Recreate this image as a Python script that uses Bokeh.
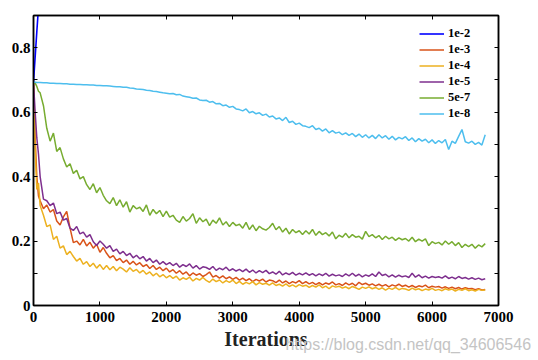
from bokeh.plotting import figure
from bokeh.models import FixedTicker, LinearAxis, Range1d, Legend, LegendItem, Title
from bokeh.embed import file_html
from bokeh.resources import INLINE

# ---------------- data ----------------
iterations = [0, 25, 50, 75] + list(range(100, 6850, 50))

blue_iter = [0, 50, 100]
lr_1e2 = [0.693, 0.85, 1.0]

lr_1e3 = [0.693, 0.52, 0.40, 0.34,
          0.325, 0.30, 0.312, 0.29, 0.298, 0.262, 0.25, 0.275, 0.292, 0.24,
          0.195, 0.20, 0.188, 0.205, 0.185, 0.196, 0.178, 0.19, 0.165, 0.18,
          0.162, 0.148, 0.155, 0.139, 0.146, 0.133, 0.141, 0.128, 0.137, 0.126,
          0.133, 0.121, 0.127, 0.115, 0.124, 0.112, 0.119, 0.108, 0.116, 0.104,
          0.111, 0.10, 0.108, 0.097, 0.104, 0.092, 0.101, 0.094, 0.099, 0.09,
          0.096, 0.104, 0.088, 0.093, 0.085, 0.092, 0.083, 0.089, 0.081, 0.087,
          0.079, 0.085, 0.077, 0.083, 0.074, 0.081, 0.076, 0.082, 0.073, 0.079,
          0.077, 0.071, 0.079, 0.07, 0.076, 0.068, 0.074, 0.07, 0.077, 0.068,
          0.074, 0.067, 0.072, 0.065, 0.071, 0.064, 0.07, 0.066, 0.073, 0.064,
          0.068, 0.062, 0.07, 0.064, 0.069, 0.061, 0.072, 0.065, 0.069, 0.063,
          0.067, 0.061, 0.066, 0.06, 0.065, 0.058, 0.064, 0.06, 0.066, 0.059,
          0.063, 0.057, 0.062, 0.056, 0.061, 0.058, 0.063, 0.055, 0.06, 0.057,
          0.059, 0.054, 0.058, 0.053, 0.057, 0.052, 0.056, 0.051, 0.055, 0.052,
          0.053, 0.049, 0.052, 0.048, 0.05]

lr_1e4 = [0.693, 0.48, 0.36, 0.38,
          0.31, 0.28, 0.245, 0.25, 0.205, 0.215, 0.178, 0.185, 0.158, 0.168,
          0.152, 0.138, 0.146, 0.128, 0.136, 0.121, 0.131, 0.116, 0.127, 0.112,
          0.124, 0.111, 0.121, 0.108, 0.119, 0.113, 0.104, 0.117, 0.106, 0.112,
          0.101, 0.109, 0.097, 0.104, 0.092, 0.10, 0.089, 0.096, 0.086, 0.093,
          0.084, 0.091, 0.079, 0.086, 0.081, 0.088, 0.076, 0.084, 0.079, 0.087,
          0.078, 0.072, 0.082, 0.074, 0.079, 0.07, 0.077, 0.072, 0.079, 0.068,
          0.075, 0.066, 0.072, 0.067, 0.074, 0.064, 0.071, 0.066, 0.069, 0.063,
          0.07, 0.062, 0.066, 0.06, 0.067, 0.059, 0.064, 0.058, 0.065, 0.06,
          0.063, 0.056, 0.062, 0.057, 0.064, 0.055, 0.06, 0.052, 0.061, 0.057,
          0.06, 0.054, 0.058, 0.052, 0.059, 0.055, 0.05, 0.057, 0.053, 0.058,
          0.052, 0.056, 0.05, 0.055, 0.048, 0.054, 0.05, 0.056, 0.049, 0.053,
          0.051, 0.047, 0.054, 0.049, 0.052, 0.046, 0.051, 0.048, 0.053, 0.047,
          0.05, 0.046, 0.052, 0.048, 0.051, 0.045, 0.05, 0.047, 0.052, 0.046,
          0.049, 0.045, 0.05, 0.047, 0.048]

lr_1e5 = [0.693, 0.60, 0.52, 0.47,
          0.40, 0.33, 0.325, 0.31, 0.318, 0.285, 0.29, 0.265, 0.27, 0.24,
          0.233, 0.245, 0.222, 0.228, 0.212, 0.22, 0.198, 0.186, 0.20, 0.19,
          0.178, 0.186, 0.168, 0.175, 0.16, 0.168, 0.155, 0.162, 0.148, 0.156,
          0.145, 0.152, 0.138, 0.146, 0.133, 0.141, 0.128, 0.136, 0.127, 0.133,
          0.124, 0.131, 0.119, 0.127, 0.121, 0.129, 0.116, 0.124, 0.113, 0.12,
          0.118, 0.112, 0.121, 0.109, 0.116, 0.111, 0.119, 0.108, 0.114, 0.107,
          0.112, 0.105, 0.113, 0.103, 0.11, 0.101, 0.108, 0.102, 0.109, 0.099,
          0.104, 0.097, 0.106, 0.095, 0.101, 0.096, 0.103, 0.094, 0.10, 0.095,
          0.101, 0.094, 0.099, 0.092, 0.098, 0.093, 0.10, 0.091, 0.097, 0.092,
          0.095, 0.09, 0.098, 0.092, 0.10, 0.091, 0.097, 0.089, 0.095, 0.091,
          0.098, 0.09, 0.104, 0.093, 0.097, 0.089, 0.095, 0.088, 0.094, 0.089,
          0.092, 0.087, 0.10, 0.088, 0.095, 0.086, 0.091, 0.085, 0.09, 0.087,
          0.089, 0.085, 0.092, 0.084, 0.088, 0.083, 0.09, 0.084, 0.087, 0.082,
          0.086, 0.081, 0.085, 0.08, 0.083]

lr_5e7 = [0.693, 0.69, 0.68, 0.665,
          0.66, 0.62, 0.55, 0.51, 0.535, 0.478, 0.49, 0.455, 0.43, 0.44,
          0.41, 0.42, 0.393, 0.40, 0.375, 0.36, 0.378, 0.35, 0.366, 0.342,
          0.325, 0.316, 0.335, 0.31, 0.328, 0.305, 0.322, 0.29, 0.31, 0.30,
          0.305, 0.292, 0.312, 0.28, 0.298, 0.285, 0.295, 0.276, 0.293, 0.274,
          0.28, 0.265, 0.258, 0.276, 0.262, 0.27, 0.285, 0.255, 0.272, 0.26,
          0.268, 0.248, 0.265, 0.255, 0.272, 0.25, 0.26, 0.245, 0.258, 0.248,
          0.252, 0.24, 0.258, 0.236, 0.25, 0.232, 0.246, 0.238, 0.234, 0.242,
          0.255, 0.235, 0.245, 0.228, 0.24, 0.222, 0.236, 0.226, 0.232, 0.22,
          0.232, 0.222, 0.236, 0.218, 0.23, 0.22, 0.226, 0.216, 0.228, 0.207,
          0.218, 0.212, 0.224, 0.21, 0.22, 0.212, 0.215, 0.206, 0.23, 0.214,
          0.22, 0.21, 0.217, 0.205, 0.215, 0.207, 0.212, 0.202, 0.21, 0.204,
          0.208, 0.20, 0.212, 0.198, 0.206, 0.20, 0.207, 0.186, 0.198, 0.192,
          0.196, 0.188, 0.20, 0.19, 0.198, 0.186, 0.195, 0.18, 0.19, 0.183,
          0.19, 0.178, 0.188, 0.182, 0.192]

lr_1e8 = [0.693, 0.693, 0.692, 0.692,
          0.692, 0.691, 0.691, 0.690, 0.690, 0.689, 0.689, 0.688, 0.688, 0.687,
          0.687, 0.686, 0.686, 0.685, 0.685, 0.684, 0.684, 0.683, 0.683, 0.682,
          0.682, 0.681, 0.68, 0.679, 0.679, 0.677, 0.677, 0.675, 0.674, 0.672,
          0.671, 0.67, 0.668, 0.667, 0.665, 0.664, 0.662, 0.66, 0.659, 0.657,
          0.658, 0.654, 0.655, 0.65, 0.648, 0.646, 0.643, 0.644, 0.638, 0.636,
          0.637, 0.631, 0.633, 0.626, 0.627, 0.62, 0.622, 0.615, 0.618, 0.61,
          0.608, 0.604, 0.61, 0.598, 0.602, 0.595, 0.598, 0.59, 0.594, 0.585,
          0.588, 0.579, 0.582, 0.574, 0.584, 0.568, 0.572, 0.562, 0.566, 0.558,
          0.556, 0.552, 0.558, 0.546, 0.55, 0.541, 0.548, 0.536, 0.543, 0.535,
          0.538, 0.53, 0.536, 0.528, 0.534, 0.524, 0.532, 0.522, 0.53, 0.52,
          0.528, 0.518, 0.53, 0.52, 0.527, 0.516, 0.525, 0.514, 0.522, 0.517,
          0.524, 0.512, 0.52, 0.508, 0.518, 0.51, 0.516, 0.505, 0.514, 0.503,
          0.512, 0.505, 0.515, 0.484, 0.51, 0.503, 0.525, 0.546, 0.508, 0.504,
          0.51, 0.50, 0.506, 0.498, 0.53]

series_names = ["1e-2", "1e-3", "1e-4", "1e-5", "5e-7", "1e-8"]
series_colors = ["#0000FF", "#D95319", "#EDB120", "#7E2F8E", "#77AC30", "#4DBEEE"]

x_ticks = [0, 1000, 2000, 3000, 4000, 5000, 6000, 7000]
y_label_ticks = [0, 0.2, 0.4, 0.6, 0.8]
y_minor_ticks = [0.1, 0.3, 0.5, 0.7, 0.9]
y_all_ticks = [0, 0.1, 0.2, 0.3, 0.4, 0.5, 0.6, 0.7, 0.8, 0.9]
y_labels = {0: "0", 0.2: "0.2", 0.4: "0.4", 0.6: "0.6", 0.8: "0.8"}
watermark = "https://blog.csdn.net/qq_34606546"

# ---------------- figure ----------------
FONT = "Liberation Serif"
p = figure(frame_width=465, frame_height=290, output_backend="svg",
           toolbar_location=None, x_range=Range1d(0, 7000), y_range=Range1d(0, 0.9),
           min_border_left=33, min_border_top=15, min_border_right=38, min_border_bottom=55)
p.xgrid.visible = False
p.ygrid.visible = False
p.outline_line_color = "black"
p.outline_line_width = 1.5
p.background_fill_color = "white"
p.border_fill_color = "white"

renderers = [p.line(blue_iter, lr_1e2, line_color=series_colors[0], line_width=1.6)]
for name, ys, c in zip(series_names[1:], [lr_1e3, lr_1e4, lr_1e5, lr_5e7, lr_1e8], series_colors[1:]):
    renderers.append(p.line(iterations, ys, line_color=c, line_width=1.5))


def style_axis(ax):
    ax.axis_line_color = "black"
    ax.axis_line_width = 1.5
    ax.major_tick_in = 4
    ax.major_tick_out = 0
    ax.minor_tick_in = 4
    ax.minor_tick_out = 0
    ax.major_tick_line_color = "black"
    ax.minor_tick_line_color = "black"
    ax.major_tick_line_width = 1
    ax.minor_tick_line_width = 1
    ax.major_label_text_font = FONT
    ax.major_label_text_font_style = "bold"
    ax.major_label_text_color = "black"
    ax.major_label_text_font_size = "15px"


xa = p.xaxis[0]
xa.ticker = FixedTicker(ticks=x_ticks)
style_axis(xa)
xa.major_label_standoff = 6
xa.axis_label = "Iterations"
xa.axis_label_text_font = FONT
xa.axis_label_text_font_style = "bold"
xa.axis_label_text_font_size = "20px"
xa.axis_label_text_color = "#222222"
xa.axis_label_standoff = 3

ya = p.yaxis[0]
ya.ticker = FixedTicker(ticks=y_label_ticks, minor_ticks=y_minor_ticks)
ya.major_label_overrides = y_labels
style_axis(ya)
ya.major_label_standoff = 3

top = LinearAxis(ticker=FixedTicker(ticks=[], minor_ticks=x_ticks))
style_axis(top)
p.add_layout(top, "above")
right = LinearAxis(ticker=FixedTicker(ticks=[], minor_ticks=y_all_ticks))
style_axis(right)
p.add_layout(right, "right")

legend = Legend(items=[LegendItem(label=n, renderers=[rr]) for n, rr in zip(series_names, renderers)],
                location=(386, 184))
legend.border_line_color = None
legend.background_fill_alpha = 0
legend.label_text_font = FONT
legend.label_text_font_style = "bold"
legend.label_text_font_size = "12.5px"
legend.label_text_color = "black"
legend.glyph_width = 25
legend.glyph_height = 15
legend.label_height = 15
legend.label_standoff = 4
legend.spacing = 1
legend.padding = 4
legend.margin = 0
p.add_layout(legend, "center")

wm = Title(text=watermark, align="left", offset=252, standoff=-34, vertical_align="top",
           text_font="Liberation Sans", text_font_size="16px", text_font_style="normal",
           text_color="#c4c4c4")
p.add_layout(wm, "below")

open("out.html", "w").write(file_html(p, INLINE))
